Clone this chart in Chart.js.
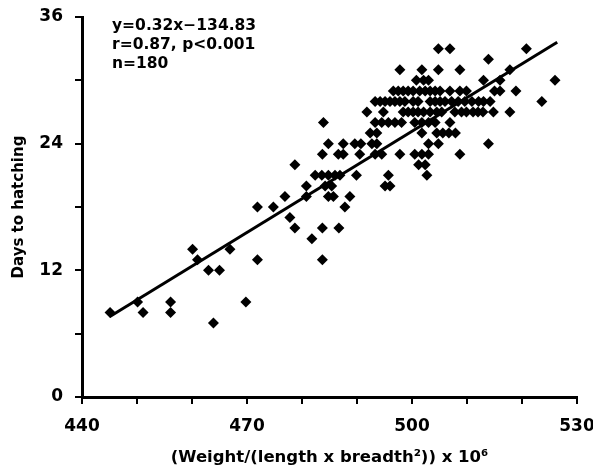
<!DOCTYPE html>
<html>
<head>
<meta charset="utf-8">
<script src="https://cdn.jsdelivr.net/npm/chart.js@4/dist/chart.umd.min.js"></script>
<style>
  html, body { margin: 0; padding: 0; background: #fff; }
  #wrap { width: 593px; height: 472px; }
</style>
</head>
<body>
<div id="wrap"><canvas id="chart"></canvas></div>
<script>
// days to hatching, one row per value, with the egg index of each point in that row
const dayRows = [33, 32, 31, 30, 29, 28, 27, 26, 25, 24, 23, 22, 21, 20, 19, 18, 17, 16, 15, 14, 13, 12, 9, 8, 7];
const indexRows = [
  [504.8, 506.9, 520.8],
  [513.9],
  [497.8, 501.8, 504.8, 508.7, 517.8],
  [500.8, 502.1, 503.0, 513.0, 516.0, 526.0],
  [496.6, 497.5, 498.4, 499.3, 500.2, 501.4, 502.4, 503.3, 504.2, 505.1, 506.9, 508.7, 509.9, 515.0, 516.0, 518.9],
  [493.3, 494.2, 495.1, 496.0, 496.9, 497.8, 498.7, 500.2, 501.1, 503.3, 504.2, 505.1, 506.0, 507.2, 508.4, 509.6, 510.9, 512.1, 513.0, 514.2, 523.6],
  [491.8, 494.8, 498.4, 499.3, 500.2, 501.1, 502.1, 503.3, 504.5, 505.4, 507.8, 509.0, 509.9, 511.1, 512.0, 512.9, 514.8, 517.8],
  [483.9, 493.3, 494.5, 495.7, 496.9, 498.1, 500.5, 501.8, 503.0, 504.2, 506.9],
  [492.4, 493.6, 501.8, 504.5, 505.6, 506.7, 507.9],
  [484.8, 487.5, 489.6, 490.7, 492.7, 493.6, 503.0, 504.8, 513.9],
  [483.7, 486.6, 487.5, 490.5, 493.3, 494.5, 497.8, 500.5, 501.8, 503.0, 508.7],
  [478.7, 501.2, 502.4],
  [482.4, 483.6, 484.8, 486.0, 486.9, 489.9, 495.7, 502.7],
  [480.8, 484.2, 485.4, 495.1, 496.0],
  [476.9, 480.8, 484.8, 485.7, 488.7],
  [471.9, 474.8, 487.8],
  [477.8],
  [478.7, 483.7, 486.7],
  [481.8],
  [460.1, 466.9],
  [461.0, 471.9, 483.7],
  [463.0, 465.0],
  [450.1, 456.1, 469.8],
  [445.1, 451.1, 456.1],
  [463.9]
];

// fitted line end points
const fitX = [445, 526.4];
const fitY = [7.6, 33.6];

const xLabels = [440, 470, 500, 530];
const yLabels = [0, 12, 24, 36];
const statLines = ['y=0.32x\u2212134.83', 'r=0.87, p<0.001', 'n=180'];

const points = [];
dayRows.forEach((d, i) => {
  indexRows[i].forEach(x => points.push({ x: x, y: d }));
});

const FONT = '"DejaVu Sans", Arial, sans-serif';

const statText = {
  id: 'statText',
  afterDraw(chart) {
    const ctx = chart.ctx;
    ctx.save();
    ctx.fillStyle = '#000';
    ctx.font = 'bold 15.5px ' + FONT;
    ctx.textBaseline = 'middle';
    statLines.forEach((t, i) => ctx.fillText(t, 112, 26 + i * 19));
    ctx.restore();
  }
};

new Chart(document.getElementById('chart'), {
  type: 'scatter',
  data: {
    datasets: [
      {
        data: points,
        pointStyle: 'rectRot',
        pointRadius: 5.5,
        pointHoverRadius: 5.5,
        backgroundColor: '#000',
        borderColor: '#000',
        borderWidth: 0
      },
      {
        type: 'line',
        data: fitX.map((x, i) => ({ x: x, y: fitY[i] })),
        borderColor: '#000',
        borderWidth: 3,
        pointRadius: 0,
        fill: false
      }
    ]
  },
  options: {
    responsive: true,
    maintainAspectRatio: false,
    animation: false,
    layout: { padding: { top: 17, right: 16, left: 0, bottom: 0 } },
    plugins: { legend: { display: false }, tooltip: { enabled: false } },
    scales: {
      x: {
        type: 'linear',
        min: 440,
        max: 530,
        afterFit(scale) {
          scale.height = 75;
          scale.paddingLeft = 0;
          scale.paddingRight = 0;
        },
        border: { display: true, color: '#000', width: 3 },
        grid: { drawOnChartArea: false, drawTicks: true, tickLength: 7, color: '#000', lineWidth: 2 },
        ticks: {
          stepSize: 10,
          color: '#000',
          padding: 12,
          maxRotation: 0,
          autoSkip: false,
          font: { family: FONT, size: 17, weight: 'bold' },
          callback: v => xLabels.includes(v) ? String(v) : ''
        },
        title: {
          display: true,
          text: '(Weight/(length x breadth\u00b2)) x 10\u2076',
          color: '#000',
          padding: { top: 6 },
          font: { family: FONT, size: 16.5, weight: 'bold' }
        }
      },
      y: {
        type: 'linear',
        min: 0,
        max: 36,
        afterFit(scale) {
          scale.width = 82;
          scale.paddingTop = 0;
          scale.paddingBottom = 0;
        },
        border: { display: true, color: '#000', width: 3 },
        grid: { drawOnChartArea: false, drawTicks: true, tickLength: 7, color: '#000', lineWidth: 2 },
        ticks: {
          stepSize: 6,
          color: '#000',
          padding: 12,
          autoSkip: false,
          font: { family: FONT, size: 17, weight: 'bold' },
          callback: v => yLabels.includes(v) ? String(v) : ''
        },
        title: {
          display: true,
          text: 'Days to hatching',
          color: '#000',
          padding: { top: 10, bottom: 0 },
          font: { family: FONT, size: 15, weight: 'bold' }
        }
      }
    }
  },
  plugins: [statText]
});
</script>
</body>
</html>
